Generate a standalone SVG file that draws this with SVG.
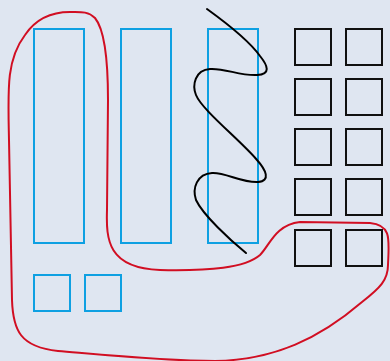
<svg xmlns="http://www.w3.org/2000/svg" width="390" height="361" viewBox="0 0 390 361">
<style>
.bg{fill:#dfe6f1}
.blue{fill:none;stroke:#0ea0e2;stroke-width:2}
.sq{fill:none;stroke:#111;stroke-width:2}
.red{fill:none;stroke:#d10e22;stroke-width:2}
.wave{fill:none;stroke:#000;stroke-width:2;stroke-linecap:round}
</style>
<rect class="bg" x="0" y="0" width="390" height="361"/>
<g id="tall-rects">
<rect id="tall1" class="blue" x="34" y="29" width="50" height="214"/>
<rect id="tall2" class="blue" x="121" y="29" width="50" height="214"/>
<rect id="tall3" class="blue" x="208" y="29" width="50" height="214"/>
</g>
<g id="small-blue">
<rect id="small1" class="blue" x="34" y="275" width="36" height="36"/>
<rect id="small2" class="blue" x="85" y="275" width="36" height="36"/>
</g>
<g id="grid">
<rect class="sq" x="295" y="29" width="36" height="36"/>
<rect class="sq" x="346" y="29" width="36" height="36"/>
<rect class="sq" x="295" y="79" width="36" height="36"/>
<rect class="sq" x="346" y="79" width="36" height="36"/>
<rect class="sq" x="295" y="129" width="36" height="36"/>
<rect class="sq" x="346" y="129" width="36" height="36"/>
<rect class="sq" x="295" y="179" width="36" height="36"/>
<rect class="sq" x="346" y="179" width="36" height="36"/>
<rect class="sq" x="295" y="230" width="36" height="36"/>
<rect class="sq" x="346" y="230" width="36" height="36"/>
</g>
<g id="connectors">
<path id="wave" class="wave" d="M207 9 C225 22 250 42 260 56 C268 66 271 74 257 75 C240 76 225 68 210 69 C195 70 192 85 196 95 C202 110 240 140 257 160 C266 170 271 181 258 182 C242 183 225 172 212 173 C197 174 192 188 196 200 C203 215 230 240 246 253"/>
<path id="outline" class="red" d="M70 12 C80 12 88 11 95 18 C105 30 108 60 108 100 L107 210 C106 240 108 268 160 270 C210 271 245 268 260 255 C270 245 275 225 300 222 L370 223 C392 225 389 240 388 265 C388 280 380 288 362 302 C320 338 275 360 215 361 C165 361 105 355 58 351 C20 347 13 330 12 300 L9 140 C8 90 6 60 25 35 C35 20 50 12 70 12 Z"/>
</g>
</svg>
